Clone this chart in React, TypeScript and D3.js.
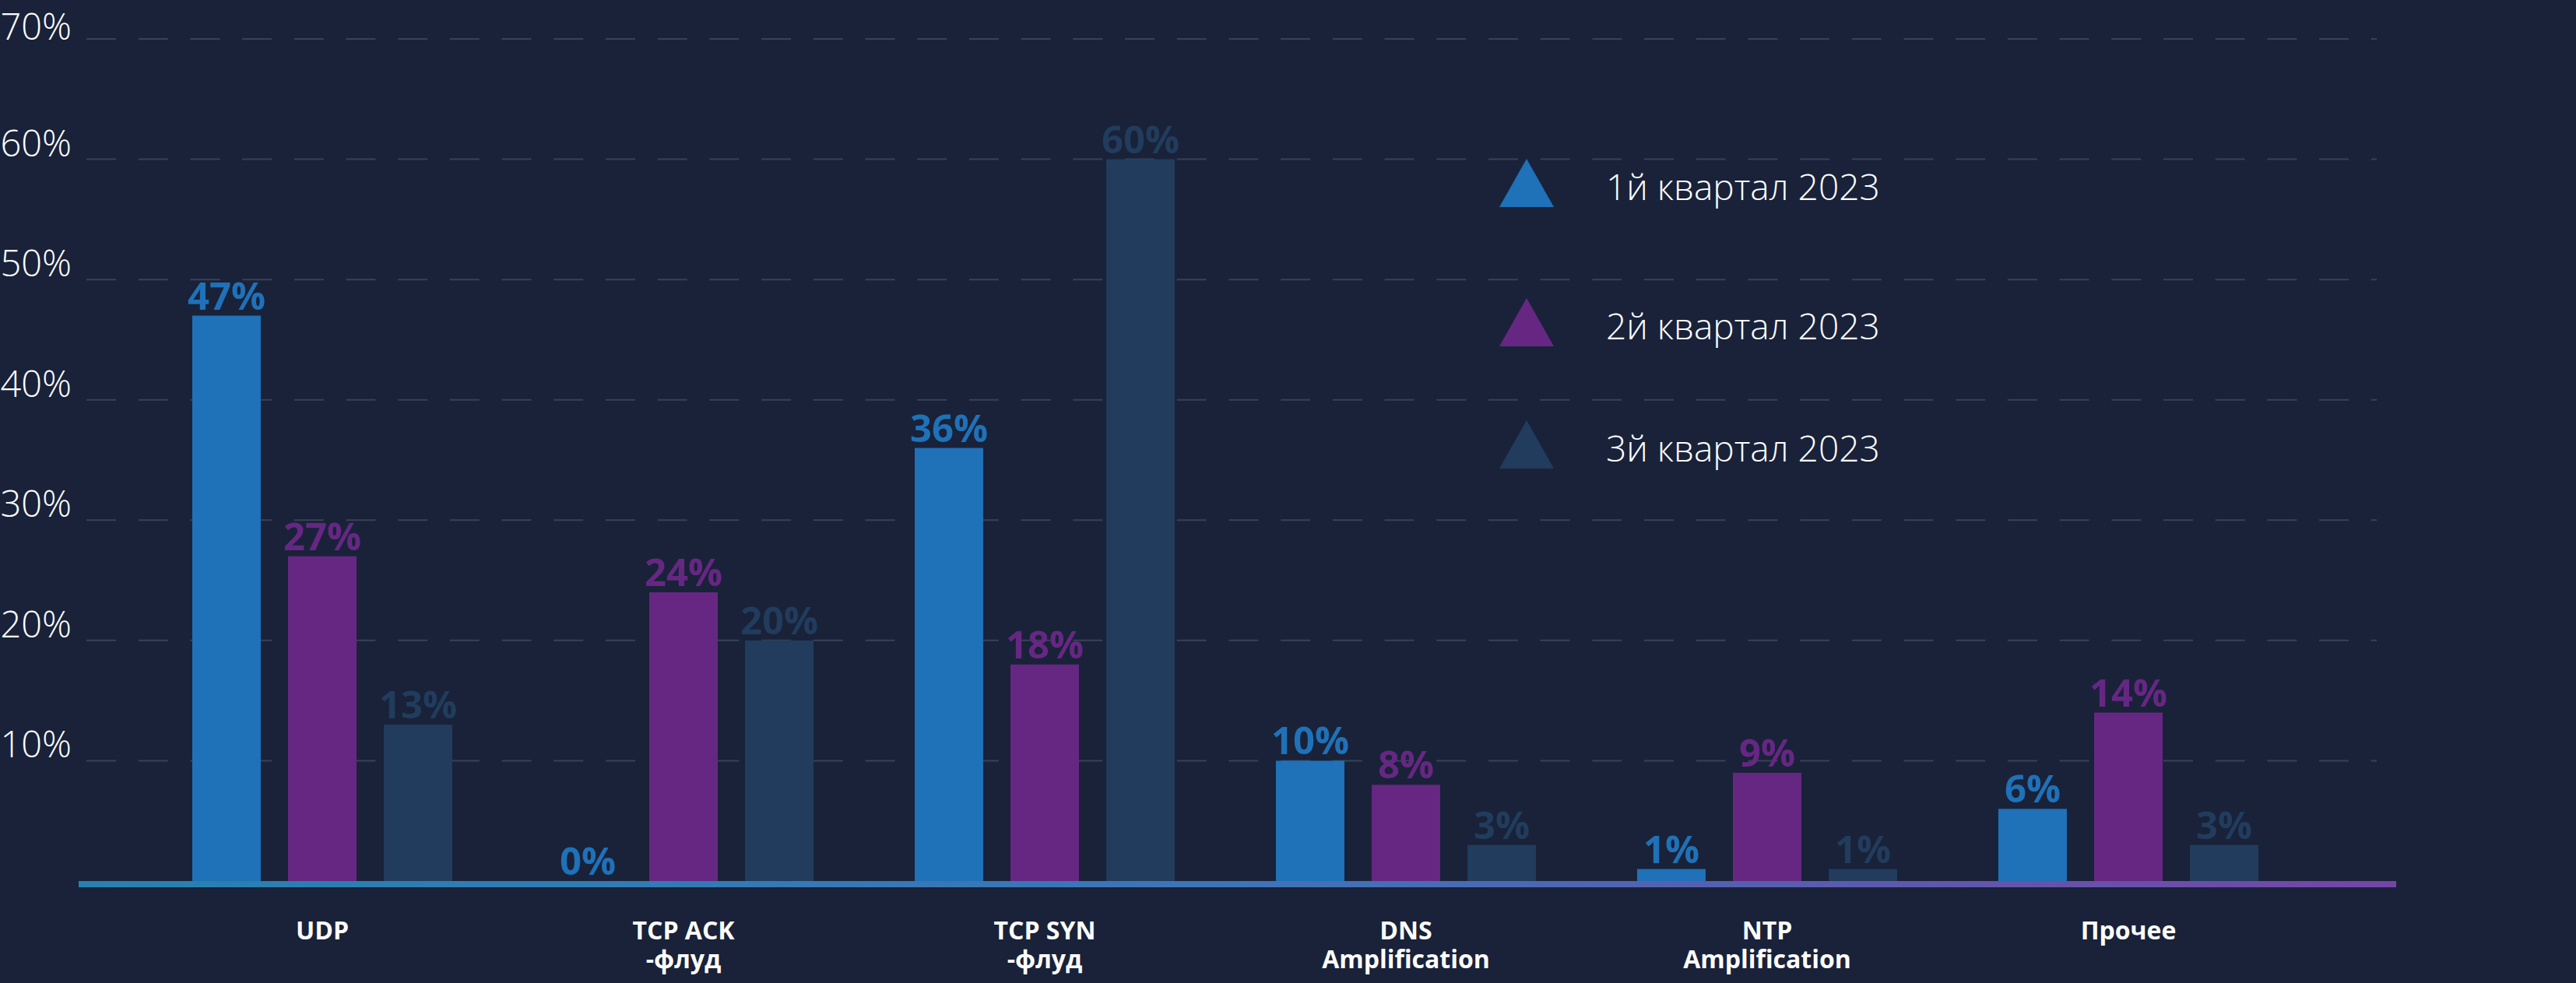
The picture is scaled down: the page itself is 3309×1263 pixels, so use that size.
import React from "react";
import * as d3 from "d3";

const categories = ["UDP", "TCP ACK\n-флуд", "TCP SYN\n-флуд", "DNS\nAmplification", "NTP\nAmplification", "Прочее"];
const seriesNames = ["1й квартал 2023", "2й квартал 2023", "3й квартал 2023"];
const q1Values = [47, 0, 36, 10, 1, 6];
const q2Values = [27, 24, 18, 8, 9, 14];
const q3Values = [13, 20, 60, 3, 1, 3];
const yTicks = [10, 20, 30, 40, 50, 60, 70];
const seriesColors = ["#1f71b8", "#662783", "#213c5c"];

const W = 3309;
const H = 1263;
const FONT = "'Open Sans', 'Noto Sans', sans-serif";

export default function App() {
  const seriesValues = [q1Values, q2Values, q3Values];
  const y = d3.scaleLinear().domain([0, 70]).range([1132, 50]);
  const x0 = d3.scaleBand<string>().domain(categories).range([182, 2966]).paddingInner(0).paddingOuter(0);
  const x1 = d3
    .scaleBand<string>()
    .domain(seriesNames)
    .range([0, x0.bandwidth()])
    .paddingInner(0.2846)
    .paddingOuter(0.528);

  const gridX0 = 111;
  const gridX1 = 3053;
  const legendX = 1926;
  const legendOffsets = [0, 179, 336];
  const legendTop = 204;

  return (
    <svg
      width={W}
      height={H}
      style={{ position: "absolute", left: 0, top: 0, display: "block" }}
      fontFamily={FONT}
    >
      <defs>
        <linearGradient id="baseGrad" x1="0" x2="1" y1="0" y2="0">
          <stop offset="0%" stopColor="#2781b0" />
          <stop offset="50%" stopColor="#3e74b8" />
          <stop offset="100%" stopColor="#7545a6" />
        </linearGradient>
      </defs>
      <rect x={0} y={0} width={W} height={H} fill="#192239" />

      {/* gridlines */}
      {yTicks.map((t) => (
        <line
          key={"g" + t}
          x1={gridX0}
          x2={gridX1}
          y1={y(t)}
          y2={y(t)}
          stroke="#384156"
          strokeWidth={2}
          strokeDasharray="38 28.7"
        />
      ))}
      {/* tick labels */}
      {yTicks.map((t) => (
        <text
          key={"t" + t}
          x={92}
          y={Math.max(y(t) - 4, 51)}
          textAnchor="end"
          fontSize={47}
          fill="#ffffff"
          fontWeight={300}
        >
          {t + "%"}
        </text>
      ))}

      {/* bars */}
      {categories.map((c, ci) => (
        <g key={"c" + ci} transform={`translate(${x0(c)},0)`}>
          {seriesNames.map((s, si) => {
            const v = seriesValues[si][ci];
            const bx = x1(s)!;
            return (
              <g key={s}>
                {v > 0 && (
                  <rect x={bx} y={y(v)} width={x1.bandwidth()} height={y(0) + 1 - y(v)} fill={seriesColors[si]} />
                )}
                <text
                  x={bx + x1.bandwidth() / 2}
                  y={y(v) - 8}
                  textAnchor="middle"
                  fontSize={49}
                  fontWeight={700}
                  fill={seriesColors[si]}
                >
                  {v + "%"}
                </text>
              </g>
            );
          })}
        </g>
      ))}

      {/* baseline */}
      <rect x={101} y={1132} width={3078 - 101} height={8} fill="url(#baseGrad)" />

      {/* category labels */}
      {categories.map((c) => {
        const lines = c.split("\n");
        const cx = x0(c)! + x0.bandwidth() / 2;
        return (
          <text key={"l" + c} textAnchor="middle" fontSize={32} fontWeight={700} fill="#ffffff">
            {lines.map((ln, li) => (
              <tspan key={li} x={cx} y={1207 + li * 37}>
                {ln}
              </tspan>
            ))}
          </text>
        );
      })}

      {/* legend */}
      {seriesNames.map((s, si) => {
        const top = legendTop + legendOffsets[si];
        const tri = `M${legendX + 35},${top} L${legendX + 70},${top + 62} L${legendX},${top + 62} Z`;
        return (
          <g key={"lg" + s}>
            <path d={tri} fill={seriesColors[si]} />
            <text x={2063} y={top + 53} fontSize={46} fill="#ffffff" fontWeight={300}>
              {s}
            </text>
          </g>
        );
      })}
    </svg>
  );
}
